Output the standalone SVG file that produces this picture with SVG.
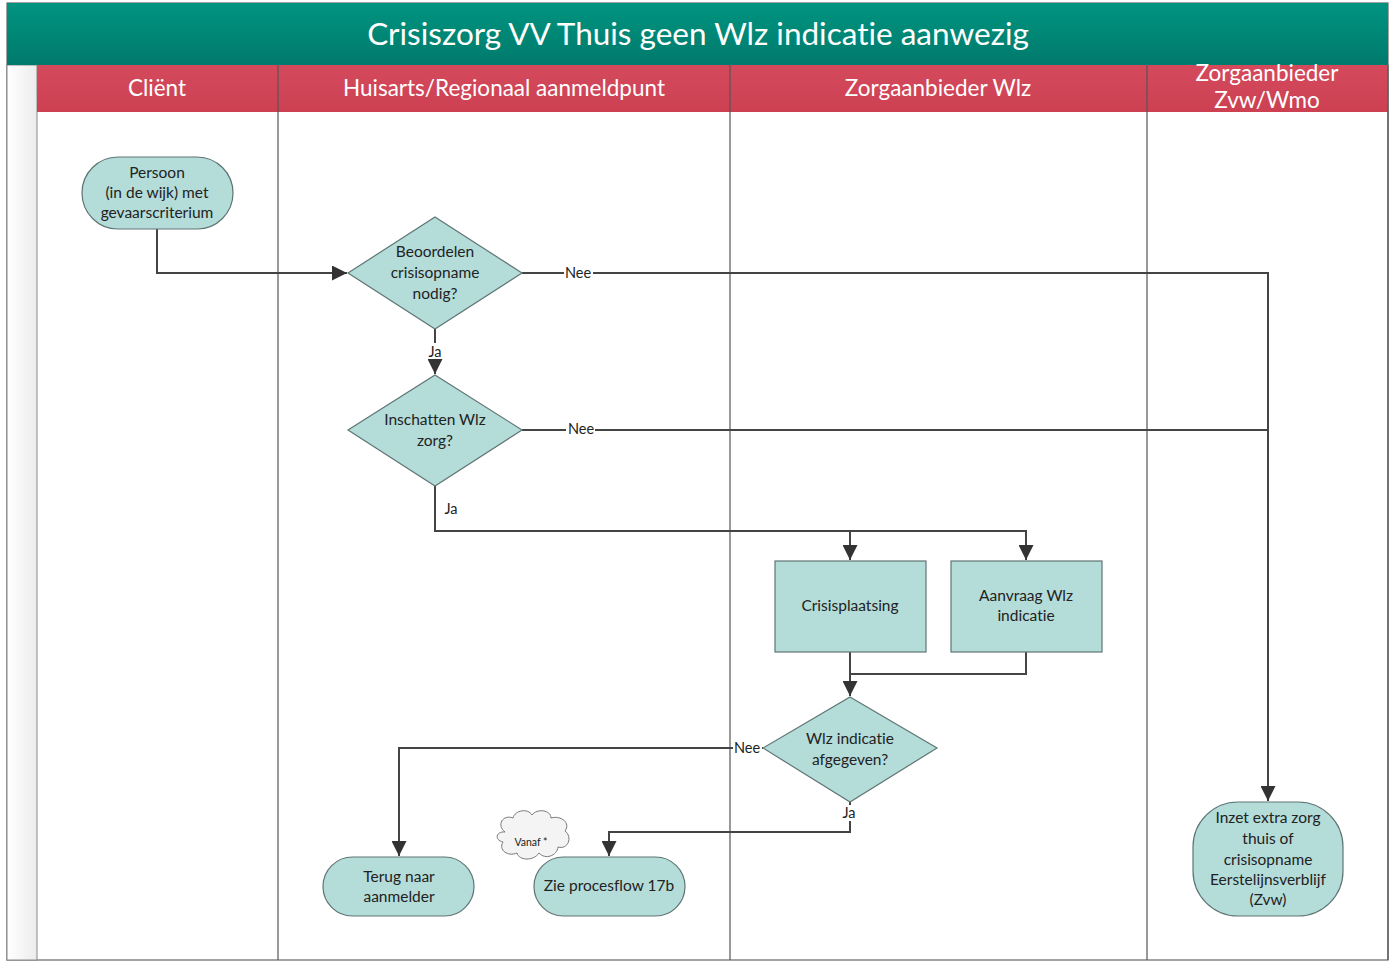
<svg xmlns="http://www.w3.org/2000/svg" width="1393" height="962" viewBox="0 0 1393 962">
<defs>
<linearGradient id="tg" x1="0" y1="0" x2="0" y2="1"><stop offset="0" stop-color="#009480"/><stop offset="1" stop-color="#007a6c"/></linearGradient>
<linearGradient id="rg" x1="0" y1="0" x2="0" y2="1"><stop offset="0" stop-color="#d44a5c"/><stop offset="1" stop-color="#cc4052"/></linearGradient>
<linearGradient id="lg" x1="0" y1="0" x2="1" y2="0"><stop offset="0" stop-color="#ffffff"/><stop offset="1" stop-color="#ececec"/></linearGradient>
<marker id="ahb" viewBox="0 0 10 10" refX="10" refY="5" markerWidth="15" markerHeight="15" markerUnits="userSpaceOnUse" orient="auto"><path d="M0,0 L10,5 L0,10 z" fill="#333"/></marker>
</defs>
<style>
text{font-family:Lato,"Open Sans","Liberation Sans",sans-serif;fill:#222;font-variant-ligatures:none}
.node{fill:#b4dcd9;stroke:#5f7574;stroke-width:1.2}
.t{font-size:15.5px;text-anchor:middle}
.hd{font-size:22.5px;fill:#fff;text-anchor:middle}
.lane{stroke:#555;stroke-width:1.2;fill:none}
.c{fill:none;stroke:#444;stroke-width:2}
.lbl{font-size:14.5px;text-anchor:middle}
.lblbg{fill:#fff}
</style>
<rect x="0" y="0" width="1393" height="962" fill="#fff"/>
<g id="frame">
<rect x="7" y="3" width="1381" height="957" fill="#fff" stroke="#666" stroke-width="1.2"/>
<rect x="7" y="65" width="30" height="895" fill="url(#lg)" stroke="#888" stroke-width="1"/>
<rect x="7" y="3" width="1381" height="62" fill="url(#tg)"/>
<text x="698" y="45" style="font-size:31.5px;fill:#fff;text-anchor:middle">Crisiszorg VV Thuis geen Wlz indicatie aanwezig</text>
<rect x="37" y="65" width="1351" height="47" fill="url(#rg)"/>
<line class="lane" x1="278" y1="65" x2="278" y2="960"/>
<line class="lane" x1="730" y1="65" x2="730" y2="960"/>
<line class="lane" x1="1147" y1="65" x2="1147" y2="960"/>
<line class="lane" x1="1388" y1="65" x2="1388" y2="960"/>
<text class="hd" x="157" y="96">Cliënt</text>
<text class="hd" x="504" y="96">Huisarts/Regionaal aanmeldpunt</text>
<text class="hd" x="938" y="96">Zorgaanbieder Wlz</text>
<text class="hd" x="1267" y="81">Zorgaanbieder</text>
<text class="hd" x="1267" y="108">Zvw/Wmo</text>
</g>
<g id="connectors">
<path class="c" d="M157,229 V273 H347" marker-end="url(#ahb)"/>
<path class="c" d="M522,273 H1268 V801" marker-end="url(#ahb)"/>
<path class="c" d="M435,329 V374" marker-end="url(#ahb)"/>
<path class="c" d="M522,430 H1268"/>
<path class="c" d="M435,486 V531 H1026 V560" marker-end="url(#ahb)"/>
<path class="c" d="M850,531 V560" marker-end="url(#ahb)"/>
<path class="c" d="M850,652 V696" marker-end="url(#ahb)"/>
<path class="c" d="M1026,652 V674 H850"/>
<path class="c" d="M763,748 H399 V856" marker-end="url(#ahb)"/>
<path class="c" d="M850,802 V832 H609 V856" marker-end="url(#ahb)"/>
<rect class="lblbg" x="564" y="264" width="29" height="16"/>
<text class="lbl" x="578" y="278">Nee</text>
<rect class="lblbg" x="566" y="421" width="29" height="16"/>
<text class="lbl" x="581" y="434">Nee</text>
<rect class="lblbg" x="426" y="343" width="18" height="16"/>
<text class="lbl" x="435" y="357">Ja</text>
<text class="lbl" x="451" y="514">Ja</text>
<rect class="lblbg" x="733" y="740" width="29" height="16"/>
<text class="lbl" x="747" y="753">Nee</text>
<rect class="lblbg" x="840" y="805" width="18" height="16"/>
<text class="lbl" x="849" y="818">Ja</text>
</g>
<g id="n-persoon">
<rect class="node" x="82" y="157" width="151" height="72" rx="36"/>
<text class="t" x="157" y="178">Persoon</text>
<text class="t" x="157" y="198">(in de wijk) met</text>
<text class="t" x="157" y="218">gevaarscriterium</text>
</g>
<g id="n-beoordelen">
<polygon class="node" points="435,217 522,273 435,329 348,273"/>
<text class="t" x="435" y="257">Beoordelen</text>
<text class="t" x="435" y="278">crisisopname</text>
<text class="t" x="435" y="299">nodig?</text>
</g>
<g id="n-inschatten">
<polygon class="node" points="435,375 522,430 435,486 348,430"/>
<text class="t" x="435" y="425">Inschatten Wlz</text>
<text class="t" x="435" y="446">zorg?</text>
</g>
<g id="n-crisisplaatsing">
<rect class="node" x="775" y="561" width="151" height="91"/>
<text class="t" x="850" y="611">Crisisplaatsing</text>
</g>
<g id="n-aanvraag">
<rect class="node" x="951" y="561" width="151" height="91"/>
<text class="t" x="1026" y="601">Aanvraag Wlz</text>
<text class="t" x="1026" y="621">indicatie</text>
</g>
<g id="n-wlzindicatie">
<polygon class="node" points="850,697 937,748 850,802 763,748"/>
<text class="t" x="850" y="744">Wlz indicatie</text>
<text class="t" x="850" y="765">afgegeven?</text>
</g>
<g id="n-terug">
<rect class="node" x="323" y="857" width="151" height="59" rx="29.5"/>
<text class="t" x="399" y="882">Terug naar</text>
<text class="t" x="399" y="902">aanmelder</text>
</g>
<g id="n-zie">
<rect class="node" x="534" y="857" width="151" height="59" rx="29.5"/>
<text class="t" x="609" y="891">Zie procesflow 17b</text>
</g>
<g id="n-vanaf">
<path d="M505,832 C496,825 503,814 513,818 C515,810 528,808 532,815 C537,808 551,810 551,818 C561,815 571,823 565,831 C573,837 568,850 558,847 C557,856 545,860 539,853 C534,861 519,861 517,853 C508,857 498,850 503,842 C494,840 496,831 505,832 Z" fill="#f4f4f4" stroke="#777" stroke-width="1"/>
<text x="531" y="846" style="font-size:10.5px;text-anchor:middle">Vanaf *</text>
</g>
<g id="n-inzet">
<rect class="node" x="1193" y="802" width="150" height="114" rx="45"/>
<text class="t" x="1268" y="823">Inzet extra zorg</text>
<text class="t" x="1268" y="844">thuis of</text>
<text class="t" x="1268" y="865">crisisopname</text>
<text class="t" x="1268" y="885">Eerstelijnsverblijf</text>
<text class="t" x="1268" y="905">(Zvw)</text>
</g>
</svg>
